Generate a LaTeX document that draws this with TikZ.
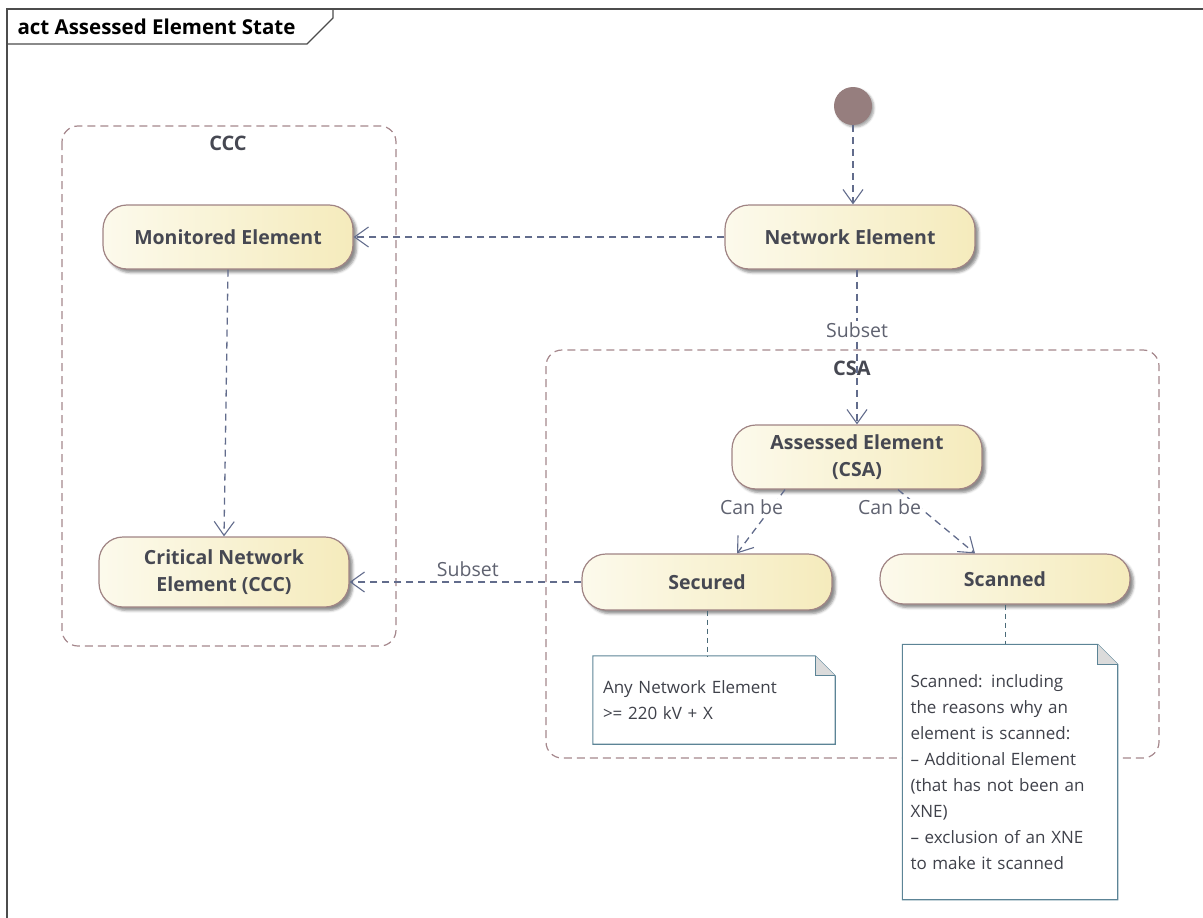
\documentclass[tikz,border=0pt]{standalone}
\usepackage{fontspec}
\setmainfont{Open Sans}
\usetikzlibrary{arrows.meta, positioning, shadows.blur, calc}
\definecolor{stateLeft}{RGB}{252, 250, 236}
\definecolor{stateRight}{RGB}{245, 235, 188}
\definecolor{stateBorder}{RGB}{160, 132, 132}
\definecolor{initBrown}{RGB}{150, 126, 126}
\definecolor{flowBlue}{RGB}{98, 108, 140}
\definecolor{groupRose}{RGB}{165, 135, 140}
\definecolor{noteTeal}{RGB}{92, 132, 150}
\definecolor{labelGray}{RGB}{70, 72, 82}
\definecolor{edgeGray}{RGB}{95, 98, 112}
\tikzset{
    % State Block Style
    state/.style={
        rectangle,
        rounded corners=24pt,
        minimum width=250pt,
        minimum height=64pt,
        align=center,
        font=\bfseries\fontsize{19.5}{26.5}\selectfont,
        text=labelGray,
        draw=stateBorder,
        line width=1.2pt,
        left color=stateLeft,
        right color=stateRight,
        blur shadow={shadow xshift=3.5pt, shadow yshift=-3.5pt, shadow blur radius=2.5pt, shadow opacity=45}
    },
    initial/.style={circle, minimum size=38pt, inner sep=0pt, fill=initBrown,
        blur shadow={shadow xshift=2pt, shadow yshift=-2pt, shadow blur radius=2pt, shadow opacity=35}},
    % Note Style
    note/.style={rectangle, fill=white, align=left, inner sep=0pt,
        font=\fontsize{17}{26}\selectfont, text=labelGray!90!black},
    noteLine/.style={draw=noteTeal, line width=1.1pt},
    % Arrow & Label Styles
    flow/.style={-{Straight Barb[length=14pt, width=20pt, line width=1.1pt]}, draw=flowBlue,
        line width=1.3pt, dash pattern=on 7pt off 5pt},
    anchorLine/.style={draw=noteTeal!80!black, line width=1pt, dash pattern=on 5pt off 4pt},
    groupBox/.style={draw=groupRose, line width=1.2pt, rounded corners=16pt, dash pattern=on 8pt off 5pt},
    groupLabel/.style={font=\bfseries\fontsize{20}{24}\selectfont, text=labelGray},
    edgeLabel/.style={font=\fontsize{19.5}{24}\selectfont, text=edgeGray, fill=white, inner sep=1pt}
}
\begin{document}
\begin{tikzpicture}[x=1pt, y=-1pt]
    \useasboundingbox (0,0) rectangle (1203,918);

    % --- Diagram Frame ---
    \draw [line width=1.3pt, draw=black!70] (1203,9) -- (7,9) -- (7,918);
    \draw [line width=1.1pt, draw=black!70] (333,9) -- (333,18) -- (307,44) -- (7,44);
    \node (title) [anchor=west, font=\bfseries\fontsize{20.5}{24}\selectfont] at (14,27) {act Assessed Element State};

    % --- Partitions ---
    \draw [groupBox] (62,126) rectangle (396,646);
    \node (cccLabel) [groupLabel] at (228,143) {CCC};
    \draw [groupBox] (546,350) rectangle (1159,758);
    \node (csaLabel) [groupLabel] at (852,368) {CSA};

    % --- States ---
    \node (init) [initial] at (853,106) {};
    \node (network) [state] at (850,237) {Network Element};
    \node (monitored) [state] at (228,237) {Monitored Element};
    \node (critical) [state, minimum height=70pt] at (224,572) {Critical Network\\Element (CCC)};
    \node (assessed) [state] at (857,457) {Assessed Element\\(CSA)};
    \node (secured) [state, minimum height=56pt] at (707,582) {Secured};
    \node (scanned) [state, minimum height=50pt] at (1005,579) {Scanned};

    % --- Notes ---
    \node (noteSecured) [note, minimum width=242pt, minimum height=88pt, text width=222pt] at (714,700)
        {Any Network Element\\>= 220 kV + X};
    \draw [noteLine] (noteSecured.north west) -- ([xshift=-20pt]noteSecured.north east)
        -- ([yshift=-20pt]noteSecured.north east) -- (noteSecured.south east)
        -- (noteSecured.south west) -- cycle;
    \fill [gray!28] ([xshift=-20pt]noteSecured.north east) -- ([xshift=-20pt, yshift=-20pt]noteSecured.north east)
        -- ([yshift=-20pt]noteSecured.north east) -- cycle;
    \draw [noteLine] ([xshift=-20pt]noteSecured.north east) -- ([xshift=-20pt, yshift=-20pt]noteSecured.north east)
        -- ([yshift=-20pt]noteSecured.north east);

    \node (noteScanned) [note, minimum width=215pt, minimum height=243pt, text width=199pt] at (1010,772)
        {Scanned: including\\the reasons why an\\element is scanned:\\– Additional Element\\(that has not been an\\XNE)\\– exclusion of an XNE\\to make it scanned};
    \draw [noteLine] ([yshift=6pt]noteScanned.north west) -- ([xshift=-20pt, yshift=6pt]noteScanned.north east)
        -- ([yshift=-14pt]noteScanned.north east) -- ([yshift=-6pt]noteScanned.south east)
        -- ([yshift=-6pt]noteScanned.south west) -- cycle;
    \fill [gray!28] ([xshift=-20pt, yshift=6pt]noteScanned.north east) -- ([xshift=-20pt, yshift=-14pt]noteScanned.north east)
        -- ([yshift=-14pt]noteScanned.north east) -- cycle;
    \draw [noteLine] ([xshift=-20pt, yshift=6pt]noteScanned.north east) -- ([xshift=-20pt, yshift=-14pt]noteScanned.north east)
        -- ([yshift=-14pt]noteScanned.north east);

    % --- Transitions ---
    \draw [flow] (init.south) -- (init.south |- network.north);
    \draw [flow] (network.west) -- (monitored.east);
    \draw [flow] (assessed.north |- network.south) -- node [edgeLabel, pos=0.39] {Subset} (assessed.north);
    \draw [flow] (monitored.south) -- (critical.north);
    \draw [flow] (secured.west) -- node [edgeLabel, pos=0.49, above=4pt, fill=none] {Subset} (secured.west -| critical.east);
    \draw [flow] ([xshift=-72pt]assessed.south) -- node [edgeLabel, pos=0.28, xshift=-20pt] {Can be} ([xshift=30pt]secured.north);
    \draw [flow] ([xshift=41pt]assessed.south) -- node [edgeLabel, pos=0.28, xshift=-30pt] {Can be} ([xshift=-30pt]scanned.north);

    % --- Note Anchors ---
    \draw [anchorLine] (secured.south) -- (secured.south |- noteSecured.north);
    \draw [anchorLine] (scanned.south) -- ([yshift=6pt]scanned.south |- noteScanned.north);

\end{tikzpicture}
\end{document}
